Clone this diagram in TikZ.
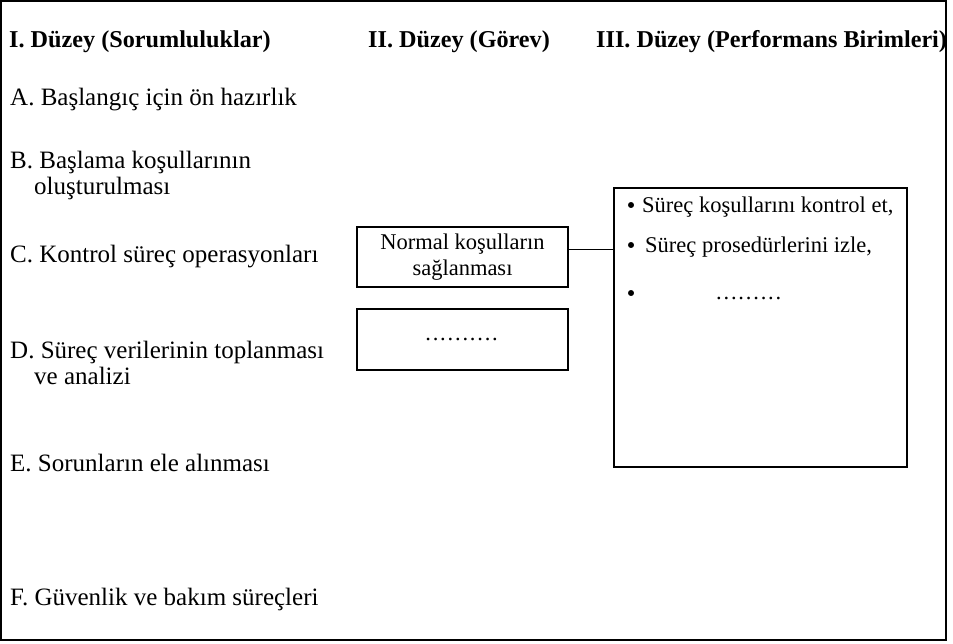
\documentclass[tikz,border=0pt]{standalone}
\usepackage{fontspec}
\setmainfont{Liberation Serif}
\newcommand{\dotrow}[1]{\foreach \i in {1,...,#1}{.\kern1.8pt}}
\begin{document}
\begin{tikzpicture}[x=1pt,y=-1pt,
  frame/.style={draw, line width=1.5pt},
  boxstyle/.style={draw, line width=1.5pt, inner sep=0pt, align=center,
    font=\fontsize{22.5}{26}\selectfont},
  head/.style={anchor=base west, inner sep=0pt, font=\fontsize{24.2}{30}\selectfont\bfseries},
  item/.style={anchor=base west, inner sep=0pt, align=left, font=\fontsize{25}{26}\selectfont},
  bul/.style={anchor=base west, inner sep=0pt, font=\fontsize{22.5}{26}\selectfont},
  bdot/.style={circle, fill, draw, inner sep=0pt, minimum size=5.5pt}]
\useasboundingbox (0,0) rectangle (953,643);
\node[frame, minimum width=945pt, minimum height=639pt, inner sep=0pt] (outer) at (473.5,320.5) {};
% headers
\node[head] (h1) at (9,47) {I. Düzey (Sorumluluklar)};
\node[head] (h2) at (368,47) {II. Düzey (Görev)};
\node[head] (h3) at (596,47) {III. Düzey (Performans Birimleri)};
% left column
\node[item] (a) at (10,105) {A. Başlangıç için ön hazırlık};
\node[item] (b) at (10,168) {B. Başlama koşullarının};
\node[item] (b2) at (34,194) {oluşturulması};
\node[item] (c) at (10,262) {C. Kontrol süreç operasyonları};
\node[item] (d) at (10,358) {D. Süreç verilerinin toplanması};
\node[item] (d2) at (34,384) {ve analizi};
\node[item] (e) at (10,471) {E. Sorunların ele alınması};
\node[item] (f) at (10,605) {F. Güvenlik ve bakım süreçleri};
% middle boxes
\node[boxstyle, minimum width=211pt, minimum height=60pt] (normal) at (462.5,257) {Normal koşulların\\sağlanması};
\node[boxstyle, minimum width=211pt, minimum height=61pt] (dotbox) at (462.5,339.5) {\dotrow{10}};
% performance box
\node[frame, minimum width=293pt, minimum height=279pt, inner sep=0pt] (perf) at (760.5,327.5) {};
\draw[line width=1pt] ([yshift=8pt]normal.east) -- ([yshift=8pt]normal.east -| perf.west);
\node[bdot] (p1) at (631,205) {};
\node[bul] (t1) at (642,212) {Süreç koşullarını kontrol et,};
\node[bdot] (p2) at (631,245) {};
\node[bul] (t2) at (645,252) {Süreç prosedürlerini izle,};
\node[bdot] (p3) at (631,293) {};
\node[bul] (t3) at (716,299) {\dotrow{9}};
\end{tikzpicture}
\end{document}
